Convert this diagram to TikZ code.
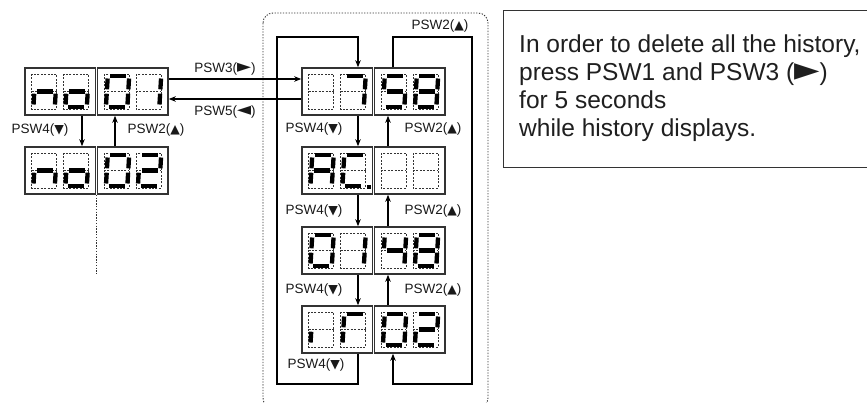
\documentclass[tikz,border=0pt]{standalone}
\usepackage{fontspec}
\setmainfont{Liberation Sans}
\newfontfamily\symf[Scale=0.92]{DejaVu Sans}
\newfontfamily\symbig[Scale=1.35]{DejaVu Sans}
\usetikzlibrary{arrows.meta,calc}
\tikzset{
  dispbox/.style={draw=black!80, line width=1.6pt, minimum width=70.5pt, minimum height=47pt, inner sep=0pt},
  cellline/.style={draw=black!80, line width=0.6pt, dash pattern=on 2pt off 1.4pt},
  segon/.style={draw=black, line width=4.3pt, line cap=butt},
  conn/.style={draw=black, line width=1.1pt, -{Stealth[length=7pt,width=5.5pt]}},
  lbl/.style={font=\fontsize{13.5}{16}\selectfont, text=black!90, inner sep=0pt},
  dotframe/.style={draw=black!80, line width=0.9pt, dash pattern=on 1.3pt off 1.5pt, rounded corners=10pt},
  notebox/.style={draw=black!80, line width=1.3pt, inner sep=0pt},
  notetext/.style={font=\fontsize{24.5}{28}\selectfont, text=black!88, align=left, inner sep=0pt}
}
\def\segbits#1#2#3#4#5#6#7\relax{%
  \ifnum#1=1 \draw[segon] (4.5,1.8) -- (20.5,1.8);\fi
  \ifnum#2=1 \draw[segon] (23.2,4.5) -- (23.2,15.3);\fi
  \ifnum#3=1 \draw[segon] (23.2,19.7) -- (23.2,30.5);\fi
  \ifnum#4=1 \draw[segon] (4.5,33.2) -- (20.5,33.2);\fi
  \ifnum#5=1 \draw[segon] (1.8,19.7) -- (1.8,30.5);\fi
  \ifnum#6=1 \draw[segon] (1.8,4.5) -- (1.8,15.3);\fi
  \ifnum#7=1 \draw[segon] (4.5,17.5) -- (20.5,17.5);\fi
}
\newcommand\digcell[3]{%
  \begin{scope}[shift={(#1,#2)}]
    \draw[cellline] (0,0) rectangle (25,35) (0,17.5) -- (25,17.5);
    \begin{scope}[shift={(2.1,0)},xslant=0.06]
      \segbits#3\relax
    \end{scope}
  \end{scope}}
\newcommand\dispunit[5]{%
  \node[dispbox] (#1) at (#2+35.25,#3+23.5) {};
  \digcell{#2+6.5}{#3+6}{#4}
  \digcell{#2+38.5}{#3+6}{#5}}
\begin{document}
\begin{tikzpicture}[x=1pt,y=-1pt]
\useasboundingbox (0,0) rectangle (867,402);
% frame round the history list
\draw[dotframe] (263,13) rectangle (488,408);
% left column
\dispunit{L1a}{25}{68}{0010101}{0011101}
\dispunit{L1b}{97.5}{68}{1111110}{0110000}
\dispunit{L2a}{25}{147}{0010101}{0011101}
\dispunit{L2b}{97.5}{147}{1111110}{1101101}
% history column
\dispunit{M1a}{302}{68}{0000000}{1110000}
\dispunit{M1b}{374.5}{68}{1011011}{1111111}
\dispunit{M2a}{302}{147}{1110111}{1001110}
\fill[black] (302+65,147+38) rectangle +(3.5,3.5);
\dispunit{M2b}{374.5}{147}{0000000}{0000000}
\dispunit{M3a}{302}{227}{1111110}{0110000}
\dispunit{M3b}{374.5}{227}{0110011}{1111111}
\dispunit{M4a}{302}{306}{0000100}{1000110}
\dispunit{M4b}{374.5}{306}{1111110}{1101101}
% helper coordinates
\coordinate (cL) at (82,0);
\coordinate (cR) at (115,0);
\coordinate (cD) at (358,0);
\coordinate (cU) at (388,0);
\coordinate (cU2) at (393,0);
\coordinate (rA) at (0,79);
\coordinate (rB) at (0,99);
\coordinate (topY) at (0,37);
\coordinate (botY) at (0,384);
\coordinate (lx) at (277,0);
\coordinate (rx) at (472,0);
% left column connectors
\draw[conn] (L1a.south -| cL) -- (L2a.north -| cL);
\draw[conn] (L2b.north -| cR) -- (L1b.south -| cR);
\draw[conn] (L1b.east |- rA) -- (M1a.west |- rA);
\draw[conn] (M1a.west |- rB) -- (L1b.east |- rB);
\coordinate (lend) at ($(L2a.south east)!0.5!(L2b.south west)+(0,79)$);
\draw[dotframe, rounded corners=0pt] ($(L2a.south east)!0.5!(L2b.south west)$) -- (lend);
% history column connectors
\draw[conn] (M1a.south -| cD) -- (M2a.north -| cD);
\draw[conn] (M2a.south -| cD) -- (M3a.north -| cD);
\draw[conn] (M3a.south -| cD) -- (M4a.north -| cD);
\draw[conn] (M2b.north -| cU) -- (M1b.south -| cU);
\draw[conn] (M3b.north -| cU) -- (M2b.south -| cU);
\draw[conn] (M4b.north -| cU) -- (M3b.south -| cU);
\draw[conn] (M4a.south -| cD) -- (cD |- botY) -- (lx |- botY) -- (lx |- topY) -- (cD |- topY) -- (M1a.north -| cD);
\draw[conn] (M1b.north -| cU2) -- (cU2 |- topY) -- (rx |- topY) -- (rx |- botY) -- (cU2 |- botY) -- (M4b.south -| cU2);
% labels
\node[lbl] (t1) at (225,69) {PSW3({\symbig ►})};
\node[lbl] (t2) at (225,112) {PSW5({\symbig ◄})};
\node[lbl] (t3) at (40,130) {PSW4({\symf ▼})};
\node[lbl] (t4) at (156,130) {PSW2({\symf ▲})};
\node[lbl] (t5) at (314,129) {PSW4({\symf ▼})};
\node[lbl] (t6) at (433,129) {PSW2({\symf ▲})};
\node[lbl] (t7) at (314,211) {PSW4({\symf ▼})};
\node[lbl] (t8) at (433,211) {PSW2({\symf ▲})};
\node[lbl] (t9) at (314,290) {PSW4({\symf ▼})};
\node[lbl] (t10) at (433,290) {PSW2({\symf ▲})};
\node[lbl] (t11) at (316,365) {PSW4({\symf ▼})};
\node[lbl] (t12) at (440,26) {PSW2({\symf ▲})};
% note
\node[notebox, anchor=north west, minimum width=372pt, minimum height=157pt] (note) at (503,10) {};
\node[notetext, anchor=north west] (notetxt) at ($(note.north west)+(16,24.5)$) {In order to delete all the history,\\press PSW1 and PSW3 ({\symbig ►})\\for 5 seconds\\while history displays.};
\end{tikzpicture}
\end{document}
